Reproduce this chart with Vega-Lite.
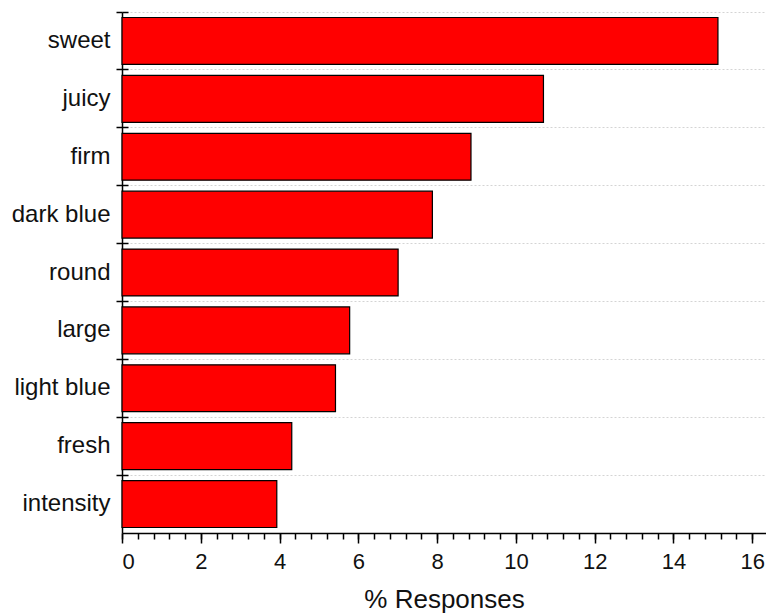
{
  "$schema": "https://vega.github.io/schema/vega-lite/v6.json",
  "width": 644,
  "height": 521,
  "autosize": {"type": "none"},
  "padding": {"left": 122, "top": 12, "right": 0, "bottom": 83},
  "background": "white",
  "config": {"view": {"stroke": null}, "font": "Liberation Sans"},
  "data": {
    "values": [
      {"term": "sweet", "pct": 15.13},
      {"term": "juicy", "pct": 10.70},
      {"term": "firm", "pct": 8.86},
      {"term": "dark blue", "pct": 7.88},
      {"term": "round", "pct": 7.01},
      {"term": "large\u00a0", "pct": 5.78},
      {"term": "light blue", "pct": 5.42},
      {"term": "fresh", "pct": 4.31},
      {"term": "intensity", "pct": 3.93}
    ]
  },
  "resolve": {"axis": {"x": "independent", "y": "independent"}},
  "layer": [
    {
      "mark": {"type": "bar", "opacity": 0, "height": {"band": 0.81}},
      "encoding": {
        "y": {
          "field": "term", "type": "nominal", "sort": null,
          "scale": {"paddingInner": 0, "paddingOuter": 0},
          "axis": {"orient": "left", "title": null, "bandPosition": 0, "tickSize": -6, "tickWidth": 1.5, "tickColor": "#000", "domain": false, "labels": false, "grid": false}
        },
        "x": {
          "field": "pct", "type": "quantitative",
          "scale": {"domain": [0, 16.35], "nice": false},
          "axis": {"orient": "bottom", "title": null, "values": [0, 0.4, 0.8, 1.2, 1.6, 2, 2.4, 2.8, 3.2, 3.6, 4, 4.4, 4.8, 5.2, 5.6, 6, 6.4, 6.8, 7.2, 7.6, 8, 8.4, 8.8, 9.2, 9.6, 10, 10.4, 10.8, 11.2, 11.6, 12, 12.4, 12.8, 13.2, 13.6, 14, 14.4, 14.8, 15.2, 15.6, 16], "tickSize": 6, "tickWidth": 1.5, "tickColor": "#000", "domain": false, "labels": false, "grid": false}
        }
      }
    },
    {
      "mark": {"type": "bar", "fill": "#ff0000", "stroke": "#000000", "strokeWidth": 1.2, "height": {"band": 0.81}},
      "encoding": {
        "y": {
          "field": "term", "type": "nominal", "sort": null,
          "scale": {"paddingInner": 0, "paddingOuter": 0},
          "axis": {"orient": "left", "title": null, "bandPosition": 0, "labelOffset": 0, "tickSize": 6, "tickWidth": 1.5, "tickColor": "#000", "domainColor": "#000", "domainWidth": 1.5, "labelFontSize": 24, "labelColor": "#111", "labelPadding": 6, "grid": true, "gridDash": [2, 2], "gridColor": "#d4d4d4", "gridWidth": 1}
        },
        "x": {
          "field": "pct", "type": "quantitative",
          "scale": {"domain": [0, 16.35], "nice": false},
          "axis": {"orient": "bottom", "title": "% Responses", "values": [0, 2, 4, 6, 8, 10, 12, 14, 16], "format": "d", "tickSize": 10, "tickWidth": 1.5, "tickColor": "#000", "domainColor": "#000", "domainWidth": 1.5, "labelFontSize": 22, "labelColor": "#111", "labelPadding": 8, "grid": false, "titleFontSize": 26, "titleFontWeight": "normal", "titleColor": "#111", "titlePadding": 14}
        }
      }
    }
  ]
}
